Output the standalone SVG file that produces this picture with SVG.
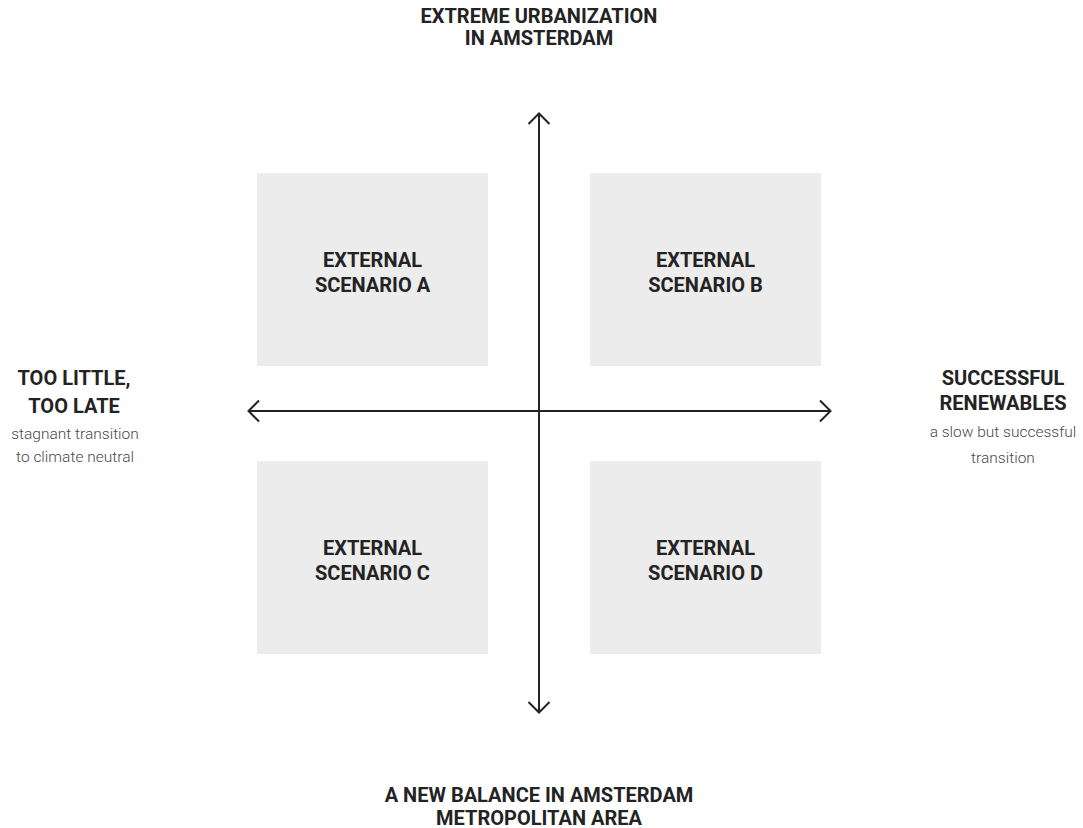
<svg xmlns="http://www.w3.org/2000/svg" width="1083" height="828" viewBox="0 0 1083 828">
<defs>
<style>
.box{fill:#ececec}
.h{font-family:Roboto,"Liberation Sans",sans-serif;font-weight:700;font-size:20px;fill:#232323;text-anchor:middle}
.s{font-family:Roboto,"Liberation Sans",sans-serif;font-weight:300;font-size:15.5px;fill:#4a4a4a;text-anchor:middle}
.ax{stroke:#232323;stroke-width:2;fill:none}
</style>
<marker id="arr" viewBox="0 0 14 24" refX="12" refY="12" markerWidth="14" markerHeight="24" markerUnits="userSpaceOnUse" orient="auto">
<path d="M1,1.5 L11.5,12 L1,22.5" fill="none" stroke="#232323" stroke-width="2"/>
</marker>
</defs>
<rect width="1083" height="828" fill="#fff"/>
<g id="scenarioA"><rect class="box" x="257" y="173" width="231" height="193"/><text class="h" x="372.5" y="267">EXTERNAL</text><text class="h" x="372.5" y="292">SCENARIO A</text></g>
<g id="scenarioB"><rect class="box" x="590" y="173" width="231" height="193"/><text class="h" x="705.5" y="267">EXTERNAL</text><text class="h" x="705.5" y="292">SCENARIO B</text></g>
<g id="scenarioC"><rect class="box" x="257" y="461" width="231" height="193"/><text class="h" x="372.5" y="555">EXTERNAL</text><text class="h" x="372.5" y="580">SCENARIO C</text></g>
<g id="scenarioD"><rect class="box" x="590" y="461" width="231" height="193"/><text class="h" x="705.5" y="555">EXTERNAL</text><text class="h" x="705.5" y="580">SCENARIO D</text></g>
<g id="connectors">
<line class="ax" x1="539" y1="420" x2="539" y2="113" marker-end="url(#arr)"/>
<line class="ax" x1="539" y1="400" x2="539" y2="713" marker-end="url(#arr)"/>
<line class="ax" x1="530" y1="411" x2="831" y2="411" marker-end="url(#arr)"/>
<line class="ax" x1="550" y1="411" x2="248" y2="411" marker-end="url(#arr)"/>
</g>
<g id="top"><text class="h" x="539" y="23">EXTREME URBANIZATION</text><text class="h" x="539" y="45">IN AMSTERDAM</text></g>
<g id="bottom"><text class="h" x="539" y="802">A NEW BALANCE IN AMSTERDAM</text><text class="h" x="539" y="825">METROPOLITAN AREA</text></g>
<g id="left"><text class="h" x="74" y="385">TOO LITTLE,</text><text class="h" x="74" y="413">TOO LATE</text><text class="s" x="75" y="439">stagnant transition</text><text class="s" x="75" y="462">to climate neutral</text></g>
<g id="right"><text class="h" x="1003" y="385">SUCCESSFUL</text><text class="h" x="1003" y="410">RENEWABLES</text><text class="s" x="1003" y="437">a slow but successful</text><text class="s" x="1003" y="463">transition</text></g>
</svg>
